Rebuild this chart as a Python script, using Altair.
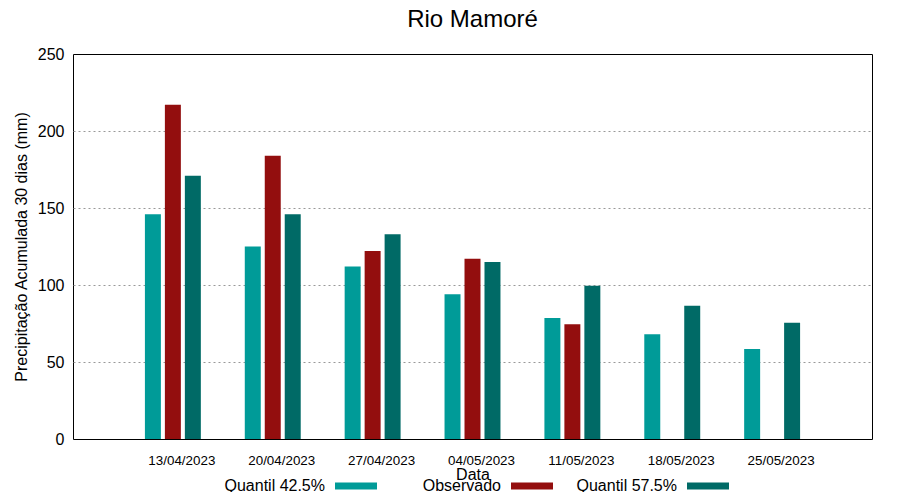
import altair as alt
import pandas as pd

dates = ["13/04/2023", "20/04/2023", "27/04/2023", "04/05/2023",
         "11/05/2023", "18/05/2023", "25/05/2023"]
q425 = [146, 125, 112, 94, 78.5, 68, 58.5]
obs = [217, 184, 122, 117, 74.5, None, None]
q575 = [171, 146, 133, 115, 99.5, 86.5, 75.5]
series = ["Quantil 42.5%", "Observado", "Quantil 57.5%"]
colors = ["#009B98", "#930E0E", "#006A66"]
yticks = [0, 50, 100, 150, 200, 250]

rows = []
for i, d in enumerate(dates):
    for s, vals in zip(series, [q425, obs, q575]):
        if vals[i] is not None:
            rows.append({"Data": d, "Serie": s, "Valor": vals[i]})
df = pd.DataFrame(rows)

chart = alt.Chart(df).mark_bar(stroke=None).encode(
    x=alt.X("Data:N", sort=dates,
            scale=alt.Scale(paddingInner=0.4, paddingOuter=0.7),
            axis=alt.Axis(title="Data", labelAngle=0, labelOffset=9, labelPadding=14,
                          ticks=False, domain=False, labelFontSize=13.4, labelColor="black",
                          titleFontSize=16, titleFontWeight="normal", titleColor="black",
                          titleY=27, titleBaseline="top")),
    xOffset=alt.XOffset("Serie:N", sort=series,
                        scale=alt.Scale(paddingInner=0.2, paddingOuter=0.1)),
    y=alt.Y("Valor:Q", scale=alt.Scale(domain=[0, 250], nice=False),
            axis=alt.Axis(values=yticks, grid=True, gridDash=[2, 3],
                          gridColor="#999999",
                          gridOpacity={"condition": {"test": "datum.value > 0 && datum.value < 250", "value": 1}, "value": 0},
                          ticks=False, domain=False, labelPadding=9, labelFontSize=16,
                          labelColor="black",
                          title="Precipitação Acumulada 30 dias (mm)",
                          titleFontSize=16, titleFontWeight="normal", titleColor="black",
                          titlePadding=8)),
    color=alt.Color("Serie:N", sort=series,
                    scale=alt.Scale(domain=series, range=colors),
                    legend=alt.Legend(title=None, orient="none", direction="horizontal",
                                      legendX=262, legendY=411,
                                      symbolType="M-7,0M-1,-0.1667H1V0.1667H-1Z",
                                      symbolSize=1764, symbolStrokeWidth=0,
                                      symbolOpacity=1,
                                      labelFontSize=16, labelColor="black",
                                      labelAlign="right", labelOffset={"expr": "-52"},
                                      columnPadding=8, labelLimit=300)),
).properties(
    width=799, height=385,
    title=alt.TitleParams("Rio Mamoré", fontSize=24, fontWeight="normal",
                          color="black", offset=14, anchor="middle"),
    autosize=alt.AutoSizeParams(type="none"),
    padding={"left": 65, "top": 46, "right": 20, "bottom": 53},
).configure(font="Liberation Sans").configure_view(stroke="black", strokeWidth=1)

chart.save("out.html", embed_options={"renderer": "svg", "actions": False})
